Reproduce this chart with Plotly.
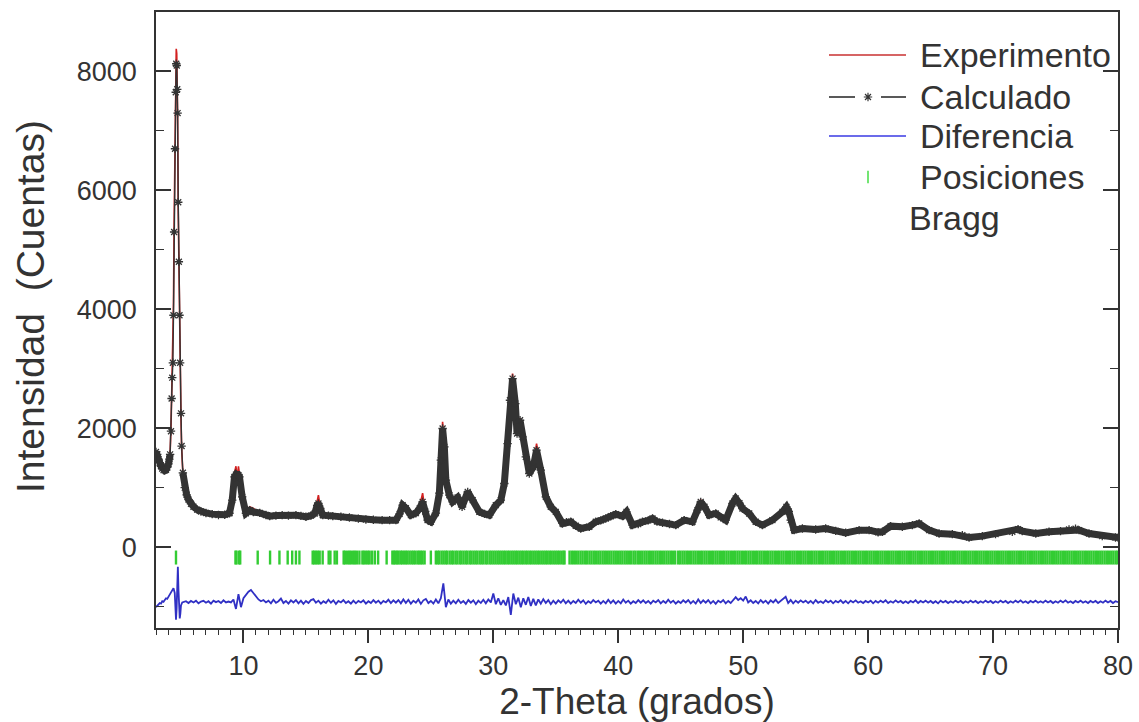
import numpy as np
import plotly.graph_objects as go

# ---------------- data ----------------
# 2-theta positions (deg) of the observed / calculated profile
two_theta = [
    3.0, 3.1, 3.2, 3.3, 3.4, 3.5, 3.6, 3.7, 3.8, 3.9, 4.0, 4.07, 4.13, 4.2, 4.25, 4.3, 4.35, 4.4,
    4.45, 4.52, 4.58, 4.62, 4.66, 4.7, 4.73, 4.78, 4.83, 4.88, 4.93, 5.0, 5.05, 5.15, 5.3, 5.45,
    5.6, 5.8, 6.0, 6.3, 6.6, 7.0, 7.5, 8.0, 8.5, 8.88, 9.1, 9.28, 9.4, 9.5, 9.6, 9.68, 9.9, 10.2,
    10.5, 10.8, 11.3, 11.8, 12.1, 12.6, 13.1, 13.6, 14.2, 14.6, 15.0, 15.4, 15.7, 15.9, 16.0,
    16.15, 16.35, 16.8, 17.15, 17.8, 18.48, 19.2, 19.8, 20.4, 21.1, 21.7, 22.2, 22.5, 22.74,
    23.0, 23.4, 23.8, 24.1, 24.34, 24.55, 24.74, 25.0, 25.4, 25.68, 25.8, 25.94, 26.08, 26.2,
    26.48, 26.74, 27.14, 27.5, 27.95, 28.35, 28.88, 29.3, 29.68, 30.2, 30.6, 30.88, 31.14,
    31.33, 31.54, 31.76, 31.9, 32.14, 32.34, 32.6, 32.88, 33.2, 33.46, 33.8, 34.2, 34.6, 35.0,
    35.54, 35.85, 36.2, 36.6, 37.0, 37.68, 38.2, 38.6, 39.0, 39.4, 39.8, 40.34, 40.66, 41.14,
    41.6, 41.94, 42.4, 42.74, 43.1, 43.54, 44.1, 44.6, 45.28, 45.94, 46.34, 46.6, 46.9, 47.28,
    47.8, 48.2, 48.6, 49.14, 49.4, 49.7, 49.94, 50.48, 51.0, 51.54, 52.34, 53.14, 53.46, 53.65,
    53.8, 54.08, 54.74, 55.8, 56.6, 57.4, 58.2, 59.28, 60.08, 60.8, 61.14, 61.8, 62.74, 63.54,
    64.08, 64.88, 65.68, 66.74, 67.54, 68.08, 69.14, 70.2, 71.54, 72.0, 72.34, 73.42, 74.48,
    75.4, 76.08, 76.6, 76.88, 77.68, 78.74, 79.8, 80.0,
]

counts_calc = [
    1600, 1560, 1480, 1420, 1360, 1320, 1295, 1290, 1300, 1340, 1400, 1480, 1560, 1950, 2500, 2850, 3100, 3900,
    5300, 6700, 7650, 8130, 8100, 7700, 7300, 5800, 4800, 3900, 3100, 2250, 1700, 1250, 1000, 880,
    800, 730, 680, 630, 600, 575, 555, 540, 545, 570, 790, 1180, 1220, 1200, 1210, 1180, 845, 570,
    620, 590, 577, 540, 521, 530, 538, 530, 538, 525, 510, 530, 566, 700, 734,
    650, 538, 530, 521, 510, 499, 480, 465, 460, 454, 454, 454, 560, 706,
    655, 538, 571, 650, 762, 600, 454, 426, 571, 907, 1462, 1995, 1686, 1126,
    874, 762, 835, 678, 930, 790, 594, 560, 538, 706, 790, 1070, 1742,
    2470, 2835, 2415, 1910, 2134, 1854, 1518, 1238, 1350, 1630, 1294, 846, 678, 594,
    398, 420, 426, 360, 314, 342, 426, 450, 482, 520, 554, 521, 594, 370,
    387, 426, 450, 482, 430, 409, 390, 370, 454, 426, 622, 762, 680, 538,
    566, 500, 454, 734, 818, 740, 650, 566, 426, 370, 454, 594, 678, 600,
    454, 286, 314, 297, 314, 274, 241, 286, 286, 250, 258, 353, 342, 370,
    398, 286, 230, 218, 202, 162, 185, 218, 258, 300, 270, 230, 258,
    270, 297, 310, 286, 230, 185, 162, 160,
]

counts_obs = [
    1610, 1540, 1490, 1410, 1370, 1300, 1290, 1260, 1290, 1350, 1420, 1500, 1600, 2000, 2550, 2950, 3250, 4100,
    5450, 6900, 7900, 8380, 8300, 7750, 7250, 5650, 4650, 3750, 3000, 2180, 1680, 1240, 1000, 880,
    800, 730, 690, 620, 610, 560, 540, 520, 560, 560, 820, 1250, 1360, 1150, 1360, 1200, 860, 580,
    680, 650, 580, 530, 510, 540, 560, 520, 530, 540, 500, 520, 570, 740, 874,
    660, 540, 520, 530, 500, 510, 470, 470, 450, 450, 460, 450, 570, 720,
    660, 540, 570, 680, 907, 600, 450, 420, 560, 920, 1480, 2106, 1700, 1140,
    870, 760, 840, 680, 940, 800, 590, 550, 540, 720, 800, 1100, 1760,
    2500, 2919, 2430, 1900, 2170, 1860, 1520, 1240, 1360, 1742, 1300, 850, 680, 600,
    400, 420, 430, 350, 310, 340, 430, 460, 490, 530, 570, 530, 620, 370,
    390, 430, 450, 500, 430, 410, 380, 360, 460, 430, 640, 800, 690, 540,
    570, 500, 450, 760, 874, 760, 660, 570, 430, 370, 460, 600, 720, 600,
    450, 290, 320, 300, 320, 270, 240, 290, 280, 250, 260, 360, 350, 380,
    410, 290, 230, 220, 200, 160, 190, 220, 260, 310, 270, 230, 260,
    270, 300, 310, 290, 230, 190, 165, 160,
]

# difference (obs - calc), finely sampled across the first reflection
diff_theta_low = [3.0, 3.1, 3.2, 3.3, 3.4, 3.5, 3.6, 3.7, 3.8, 3.9, 4.0, 4.1, 4.2, 4.3,
                  4.4, 4.5, 4.55, 4.6, 4.65, 4.7, 4.75, 4.8, 4.85, 4.9, 4.95, 5.0, 5.1, 5.2]
diff_low = [-90, -60, -40, -20, -30, 10, 0, 40, 60, 50, 90, 120, 150, 200,
            230, 150, -100, -300, -120, 300, 590, 200, -150, -280, -200, -60, -10, 0]

# difference on the 0.2 deg scan grid from 5.4 to 80.0 deg (one row per degree)
diff_rows = [
    [10, -20, 15],
    [-10, 20, -25, 5, 18], [-15, 10, -30, 20, -5], [15, -20, 25, -10, 5],
    [-10, 40, -120, 130, -90], [60, 120, 170, 200, 150], [90, 40, 10, 30, -10],
    [20, -25, 35, -15, 10], [55, -20, 15, -30, 25], [-10, 30, -25, 20, -35],
    [15, -20, 30, 45, -15], [20, -30, 10, -20, 35], [-15, 25, -35, 15, -10],
    [30, -20, 10, -30, 20], [-25, 15, -10, 25, -30], [10, -20, 30, -15, 20],
    [-30, 15, -10, 35, -20], [25, -15, 30, -25, 40], [-20, 35, -30, 20, -15],
    [40, -35, 25, 50, -20], [15, -30, 40, -25, 60], [310, -90, 40, -30, 20],
    [-25, 35, -20, 15, -35], [30, -15, 25, -40, 20], [-20, 35, -25, 40, -10],
    [140, -40, 60, -50, 30], [-60, 80, -220, 140, -40], [70, -90, 60, -50, 80],
    [-70, 50, -60, 40, -30], [45, -20, 30, -40, 20], [-30, 25, -15, 35, -25],
    [20, -30, 15, -20, 35], [-15, 25, -35, 10, -20], [30, -10, 20, -30, 15],
    [-25, 35, -20, 25, -30], [15, -25, 40, -15, 20], [-30, 10, -20, 30, -15],
    [25, -20, 15, -30, 20], [-10, 30, -25, 15, -20], [35, -15, 20, -30, 10],
    [-20, 25, -10, 30, -25], [15, -30, 40, -20, 25], [-15, 30, -25, 15, -35],
    [20, -10, 30, -25, 15], [-20, 35, 80, 30, 60], [20, 90, -10, 25, -20],
    [15, -25, 30, -15, 20], [-30, 25, -10, 35, -20], [15, 40, 85, -20, 30],
    [-25, 20, -15, 25, -10], [20, -20, 15, -25, 30], [-15, 10, -20, 25, -10],
    [20, -25, 15, -10, 25], [-20, 15, -25, 20, -10], [25, -15, 10, -20, 15],
    [-10, 20, -25, 15, -15], [20, -10, 25, -20, 10], [-15, 25, -10, 15, -20],
    [10, -20, 15, -10, 25], [-20, 15, -10, 20, -15], [15, -20, 10, -25, 20],
    [-10, 15, -20, 10, -15], [20, -10, 15, -20, 10], [-15, 20, -10, 15, -20],
    [10, -15, 20, -10, 15], [-20, 10, -15, 20, -10], [15, -20, 10, -15, 20],
    [-10, 25, -15, 10, -20], [15, -10, 20, -15, 10], [-15, 20, -10, 15, -20],
    [10, -15, 20, -10, 25], [-15, 10, -20, 15, -10], [20, -15, 10, -20, 15],
    [-10, 15, -20, 10, -15], [20, -10, 15, -20, 10],
    [-5],
]

# Bragg reflection positions (deg)
bragg_positions = [
    4.60, 9.36, 9.45, 9.66, 9.74, 11.14, 12.13, 12.88, 13.54, 13.90, 14.20, 14.48,
    15.54, 15.66, 15.80, 15.95, 16.10, 16.34, 16.82, 16.96, 17.30, 17.48,
    18.02, 18.12, 18.30, 18.46, 18.60, 18.78, 18.92, 19.08, 19.28,
    19.52, 19.64, 19.80, 19.96, 20.10, 20.30, 20.52, 20.78,
    21.46, 21.92, 22.04, 22.16, 22.30, 22.42, 22.58, 22.70, 22.86, 23.00, 23.14, 23.30,
    23.46, 23.60, 23.74, 23.92, 24.06, 24.20, 24.34, 24.50, 25.00,
    25.40, 25.55, 25.68, 25.86, 26.02, 26.18, 26.31, 26.50, 26.66, 26.79, 26.97, 27.12,
    27.30, 27.44, 27.61, 27.78, 27.92, 28.10, 28.24, 28.41, 28.57, 28.72, 28.90, 29.05,
    29.20, 29.38, 29.52, 29.70, 29.85, 30.01, 30.17, 30.33, 30.48, 30.64, 30.80, 30.95,
    31.12, 31.27, 31.44, 31.60, 31.76, 31.91, 32.08, 32.24, 32.39, 32.56, 32.71, 32.88,
    33.03, 33.20, 33.36, 33.52, 33.67, 33.84, 34.00, 34.16, 34.31, 34.48, 34.63, 34.80,
    34.96, 35.12, 35.27, 35.44, 35.60, 35.70,
    36.10, 36.28, 36.45, 36.62, 36.80, 36.98, 37.15, 37.34, 37.50, 37.69, 37.86, 38.04,
    38.21, 38.40, 38.57, 38.75, 38.92, 39.10, 39.28, 39.45, 39.63, 39.80, 39.98, 40.16,
    40.33, 40.51, 40.68, 40.86, 41.03, 41.22, 41.38, 41.57, 41.74, 41.92, 42.10, 42.27,
    42.45, 42.62, 42.80, 42.98, 43.15, 43.33, 43.50, 43.68, 43.86, 44.03, 44.21, 44.38,
    44.56, 44.80, 44.96, 45.14, 45.31, 45.49, 45.66, 45.84, 46.02, 46.19, 46.37, 46.55,
    46.72, 46.90, 47.07, 47.25, 47.43, 47.60, 47.78, 47.95, 48.13, 48.31, 48.48, 48.66,
    48.83, 49.01, 49.19, 49.36, 49.54, 49.71, 49.89, 50.07, 50.24, 50.42, 50.59, 50.77,
    50.95, 51.12, 51.30, 51.47, 51.65, 51.83, 52.00, 52.18, 52.35, 52.53, 52.71, 52.88,
    53.06, 53.23, 53.41, 53.59, 53.76, 53.94, 54.11, 54.29, 54.47, 54.64, 54.82, 54.99,
    55.17, 55.35, 55.52, 55.70, 55.87, 56.05, 56.23, 56.40, 56.58, 56.75, 56.93, 57.11,
    57.28, 57.46, 57.63, 57.81, 57.99, 58.16, 58.34, 58.51, 58.69, 58.87, 59.04, 59.22,
    59.39, 59.57, 59.75, 59.92, 60.10, 60.27, 60.45, 60.63, 60.80, 60.98, 61.15, 61.33,
    61.51, 61.68, 61.86, 62.03, 62.21, 62.39, 62.56, 62.74, 62.91, 63.09, 63.27, 63.44,
    63.62, 63.79, 63.97, 64.15, 64.32, 64.50, 64.67, 64.85, 65.03, 65.20, 65.38, 65.55,
    65.73, 65.91, 66.08, 66.26, 66.43, 66.61, 66.79, 66.96, 67.14, 67.31, 67.49, 67.67,
    67.84, 68.02, 68.19, 68.37, 68.55, 68.72, 68.90, 69.07, 69.25, 69.43, 69.60, 69.78,
    69.95, 70.13, 70.31, 70.48, 70.66, 70.83, 71.01, 71.19, 71.36, 71.54, 71.71, 71.89,
    72.07, 72.24, 72.42, 72.59, 72.77, 72.95, 73.12, 73.30, 73.47, 73.65, 73.83, 74.00,
    74.18, 74.35, 74.53, 74.71, 74.88, 75.06, 75.23, 75.41, 75.59, 75.76, 75.94, 76.11,
    76.29, 76.47, 76.64, 76.82, 76.99, 77.17, 77.35, 77.52, 77.70, 77.87, 78.05, 78.23,
    78.40, 78.58, 78.75, 78.93, 79.11, 79.28, 79.46, 79.63, 79.81, 79.96,
]

legend_labels = ["Experimento", "Calculado", "Diferencia", "Posiciones", "Bragg"]

# ---------------- styling constants ----------------
DIFF_OFFSET = -920     # vertical shift of the difference curve
BRAGG_LEVEL = -175     # row on which the reflection ticks sit
FONT = "Liberation Sans, Arial, Helvetica, sans-serif"
INK = "#333333"
RED = "#d42020"
BLUE = "#3030c4"
GREEN = "#33cc33"

W, H = 1139, 722
L, R, T, B = 156, 1118, 12, 628   # plot area in pixels


def fx(px):
    return (px - L) / (R - L)


def fy(py):
    return (B - py) / (B - T)


diff_theta = list(diff_theta_low) + list(np.round(np.arange(5.4, 80.001, 0.2), 2))
diff_vals = list(diff_low) + [v for row in diff_rows for v in row]
assert len(diff_theta) == len(diff_vals)

# split of the calculated profile: thin line over the strong first peak,
# wide band elsewhere
i0 = two_theta.index(4.13)
i1 = two_theta.index(5.15)

fig = go.Figure()

fig.add_trace(go.Scatter(
    x=two_theta, y=counts_obs, mode="lines",
    line=dict(color=RED, width=1.6), hoverinfo="skip"))

for a, b in [(0, i0 + 1), (i1, len(two_theta))]:
    fig.add_trace(go.Scatter(
        x=two_theta[a:b], y=counts_calc[a:b], mode="lines",
        line=dict(color=INK, width=7), hoverinfo="skip"))

fig.add_trace(go.Scatter(
    x=two_theta[i0:i1 + 1], y=counts_calc[i0:i1 + 1], mode="lines",
    line=dict(color=INK, width=1.4), hoverinfo="skip"))

fig.add_trace(go.Scatter(
    x=two_theta, y=counts_calc, mode="markers",
    marker=dict(symbol="asterisk-open", size=7, color=INK, line=dict(color=INK, width=1.3)),
    hoverinfo="skip"))

fig.add_trace(go.Scatter(
    x=diff_theta, y=[v + DIFF_OFFSET for v in diff_vals], mode="lines",
    line=dict(color=BLUE, width=1.8), hoverinfo="skip"))

fig.add_trace(go.Scatter(
    x=bragg_positions, y=[BRAGG_LEVEL] * len(bragg_positions), mode="markers",
    marker=dict(symbol="line-ns", size=10, color=GREEN, line=dict(color=GREEN, width=2.4)),
    hoverinfo="skip"))

# legend samples (drawn on an overlay axis spanning the plot area)
fig.add_trace(go.Scatter(
    x=[fx(868)], y=[fy(97)], xaxis="x2", yaxis="y2", mode="markers",
    marker=dict(symbol="asterisk-open", size=7, color=INK, line=dict(color=INK, width=1.2)),
    hoverinfo="skip"))
fig.add_trace(go.Scatter(
    x=[fx(868)], y=[fy(177)], xaxis="x2", yaxis="y2", mode="markers",
    marker=dict(symbol="line-ns", size=9, color="#44dd44", line=dict(color="#44dd44", width=1.5)),
    hoverinfo="skip"))

shapes = [
    dict(type="line", xref="paper", yref="paper", x0=fx(829), x1=fx(906), y0=fy(55), y1=fy(55),
         line=dict(color="#c83030", width=1.5)),
    dict(type="line", xref="paper", yref="paper", x0=fx(829), x1=fx(855), y0=fy(97), y1=fy(97),
         line=dict(color="#222222", width=1.5)),
    dict(type="line", xref="paper", yref="paper", x0=fx(881), x1=fx(906), y0=fy(97), y1=fy(97),
         line=dict(color="#222222", width=1.5)),
    dict(type="line", xref="paper", yref="paper", x0=fx(829), x1=fx(906), y0=fy(136), y1=fy(136),
         line=dict(color="#6b6bea", width=2)),
]

label_pos = [(918, 55), (918, 97), (918, 136), (918, 177), (907, 218)]
annotations = [
    dict(text=t, xref="paper", yref="paper", x=fx(px), y=fy(py), xanchor="left", yanchor="middle",
         showarrow=False, font=dict(family=FONT, size=34, color=INK))
    for t, (px, py) in zip(legend_labels, label_pos)
]
annotations.append(dict(
    text="Intensidad \u00a0(Cuentas)", xref="paper", yref="paper", x=fx(30), y=fy(307),
    xanchor="center", yanchor="middle", textangle=-90, showarrow=False,
    font=dict(family=FONT, size=39, color=INK)))

fig.update_layout(
    width=W, height=H,
    margin=dict(l=L, r=W - R, t=T, b=H - B, autoexpand=False),
    paper_bgcolor="white", plot_bgcolor="white",
    showlegend=False,
    font=dict(family=FONT, color=INK),
    shapes=shapes, annotations=annotations,
    xaxis=dict(
        range=[3, 80], tick0=0, dtick=10, ticks="outside", ticklen=13, tickwidth=1.5,
        tickcolor=INK, showline=True, linecolor=INK, linewidth=1.5, mirror=True,
        showgrid=False, zeroline=False, automargin=False,
        tickfont=dict(family=FONT, size=27, color=INK),
        minor=dict(dtick=1, tick0=0, ticks="outside", ticklen=5, tickwidth=1, tickcolor=INK),
        title=dict(text="2-Theta (grados)", font=dict(family=FONT, size=37, color=INK), standoff=6),
    ),
    yaxis=dict(
        range=[-1360, 9000], tick0=0, dtick=2000, ticks="inside", ticklen=15, tickwidth=1.5,
        tickcolor=INK, showline=True, linecolor=INK, linewidth=1.5, mirror="ticks",
        showgrid=False, zeroline=False, ticklabelstandoff=12, automargin=False,
        tickfont=dict(family=FONT, size=27, color=INK),
        minor=dict(dtick=1000, tick0=0, ticks="inside", ticklen=8, tickwidth=1, tickcolor=INK),
    ),
    xaxis2=dict(overlaying="x", range=[0, 1], visible=False, fixedrange=True),
    yaxis2=dict(overlaying="y", range=[0, 1], visible=False, fixedrange=True),
)

fig.write_html("out.html")
